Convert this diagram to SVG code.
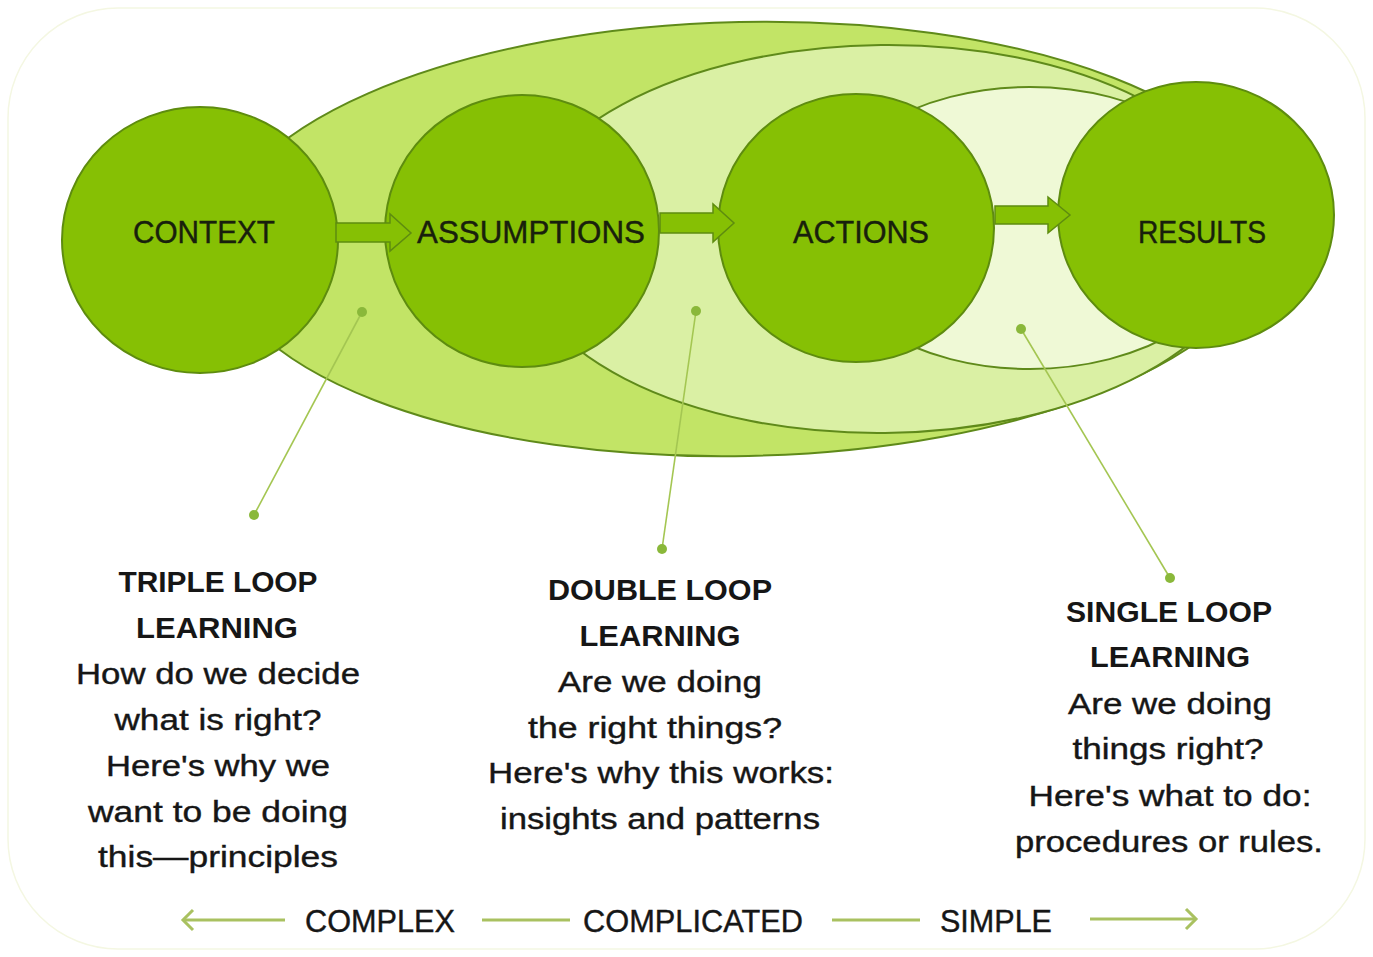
<svg xmlns="http://www.w3.org/2000/svg" width="1373" height="957" viewBox="0 0 1373 957">
  <defs>
    <style>
      .loop { stroke: #5f8a1a; stroke-width: 2; }
      .node { fill: #86c004; stroke: #5e8c0f; stroke-width: 2; }
      .nlabel { font-family: "Liberation Sans", Arial, sans-serif; font-size: 31px; fill: #18200c; stroke: #18200c; stroke-width: 0.4; text-anchor: middle; }
      .head { font-family: "Liberation Sans", Arial, sans-serif; font-size: 29px; font-weight: bold; fill: #161616; text-anchor: middle; }
      .body { font-family: "Liberation Sans", Arial, sans-serif; font-size: 30px; fill: #161616; stroke: #161616; stroke-width: 0.4; text-anchor: middle; }
      .scale { font-family: "Liberation Sans", Arial, sans-serif; font-size: 31px; fill: #161616; stroke: #161616; stroke-width: 0.4; text-anchor: middle; }
      .arrow { fill: #86c004; stroke: #5e8c0f; stroke-width: 1.5; }
      .ptr { stroke: #a4c652; stroke-width: 1.6; fill: none; }
      .dot { fill: #8ab83a; }
      .sline { stroke: #a9c160; stroke-width: 3; fill: none; }
    </style>
  </defs>

  <rect x="8" y="8" width="1357" height="941" rx="110" ry="110" fill="#ffffff" stroke="#f4f7e2" stroke-width="1.5"/>

  <g id="loops">
    <ellipse id="triple-loop" class="loop" cx="744" cy="239" rx="527" ry="217" fill="#c2e466" transform="rotate(-1.2 744 239)"/>
    <ellipse id="double-loop" class="loop" cx="883" cy="239" rx="367" ry="194" fill="#daf0a4" transform="rotate(-0.6 883 239)"/>
    <ellipse id="single-loop" class="loop" cx="1030" cy="228" rx="216" ry="141" fill="#eff9d6"/>
  </g>

  <g id="node-context">
    <ellipse class="node" cx="200" cy="240" rx="138" ry="133"/>
    <text class="nlabel" x="204" y="243" textLength="142" lengthAdjust="spacingAndGlyphs">CONTEXT</text>
  </g>
  <g id="node-assumptions">
    <ellipse class="node" cx="522" cy="231" rx="137" ry="136"/>
    <text class="nlabel" x="531" y="243" textLength="228" lengthAdjust="spacingAndGlyphs">ASSUMPTIONS</text>
  </g>
  <g id="node-actions">
    <ellipse class="node" cx="856" cy="228" rx="138" ry="134"/>
    <text class="nlabel" x="861" y="243" textLength="136" lengthAdjust="spacingAndGlyphs">ACTIONS</text>
  </g>
  <g id="node-results">
    <ellipse class="node" cx="1196" cy="215" rx="138" ry="133"/>
    <text class="nlabel" x="1202" y="243" textLength="128" lengthAdjust="spacingAndGlyphs">RESULTS</text>
  </g>

  <g id="connectors">
    <polygon class="arrow" points="336,223 390,223 390,214 411,233 390,251 390,242 336,242"/>
    <polygon class="arrow" points="660,213 713,213 713,204 734,223 713,242 713,233 660,233"/>
    <polygon class="arrow" points="995,206 1048,206 1048,197 1070,215 1048,233 1048,224 995,224"/>

    <line class="ptr" x1="362" y1="312" x2="254" y2="515"/>
    <circle class="dot" cx="362" cy="312" r="5"/>
    <circle class="dot" cx="254" cy="515" r="5"/>
    <line class="ptr" x1="696" y1="311" x2="662" y2="549"/>
    <circle class="dot" cx="696" cy="311" r="5"/>
    <circle class="dot" cx="662" cy="549" r="5"/>
    <line class="ptr" x1="1021" y1="329" x2="1170" y2="578"/>
    <circle class="dot" cx="1021" cy="329" r="5"/>
    <circle class="dot" cx="1170" cy="578" r="5"/>

    <line class="sline" x1="183" y1="920" x2="285" y2="920"/>
    <polyline class="sline" points="193,910 183,920 193,930"/>
    <line class="sline" x1="482" y1="920" x2="570" y2="920"/>
    <line class="sline" x1="832" y1="920" x2="920" y2="920"/>
    <line class="sline" x1="1090" y1="919" x2="1196" y2="919"/>
    <polyline class="sline" points="1186,909 1196,919 1186,929"/>
  </g>

  <g id="label-triple">
    <text class="head" x="218" y="592" textLength="199" lengthAdjust="spacingAndGlyphs">TRIPLE LOOP</text>
    <text class="head" x="217" y="638" textLength="162" lengthAdjust="spacingAndGlyphs">LEARNING</text>
    <text class="body" x="218" y="684" textLength="284" lengthAdjust="spacingAndGlyphs">How do we decide</text>
    <text class="body" x="218" y="730" textLength="207" lengthAdjust="spacingAndGlyphs">what is right?</text>
    <text class="body" x="218" y="776" textLength="224" lengthAdjust="spacingAndGlyphs">Here's why we</text>
    <text class="body" x="218" y="822" textLength="260" lengthAdjust="spacingAndGlyphs">want to be doing</text>
    <text class="body" x="218" y="867" textLength="240" lengthAdjust="spacingAndGlyphs">this—principles</text>
  </g>

  <g id="label-double">
    <text class="head" x="660" y="600" textLength="224" lengthAdjust="spacingAndGlyphs">DOUBLE LOOP</text>
    <text class="head" x="660" y="646" textLength="161" lengthAdjust="spacingAndGlyphs">LEARNING</text>
    <text class="body" x="660" y="692" textLength="204" lengthAdjust="spacingAndGlyphs">Are we doing</text>
    <text class="body" x="655" y="738" textLength="254" lengthAdjust="spacingAndGlyphs">the right things?</text>
    <text class="body" x="661" y="783" textLength="346" lengthAdjust="spacingAndGlyphs">Here's why this works:</text>
    <text class="body" x="660" y="829" textLength="320" lengthAdjust="spacingAndGlyphs">insights and patterns</text>
  </g>

  <g id="label-single">
    <text class="head" x="1169" y="622" textLength="206" lengthAdjust="spacingAndGlyphs">SINGLE LOOP</text>
    <text class="head" x="1170" y="667" textLength="160" lengthAdjust="spacingAndGlyphs">LEARNING</text>
    <text class="body" x="1170" y="714" textLength="204" lengthAdjust="spacingAndGlyphs">Are we doing</text>
    <text class="body" x="1168" y="759" textLength="191" lengthAdjust="spacingAndGlyphs">things right?</text>
    <text class="body" x="1170" y="806" textLength="283" lengthAdjust="spacingAndGlyphs">Here's what to do:</text>
    <text class="body" x="1169" y="852" textLength="308" lengthAdjust="spacingAndGlyphs">procedures or rules.</text>
  </g>

  <g id="scale-labels">
    <text class="scale" x="380" y="932" textLength="150" lengthAdjust="spacingAndGlyphs">COMPLEX</text>
    <text class="scale" x="693" y="932" textLength="220" lengthAdjust="spacingAndGlyphs">COMPLICATED</text>
    <text class="scale" x="996" y="932" textLength="112" lengthAdjust="spacingAndGlyphs">SIMPLE</text>
  </g>
</svg>
